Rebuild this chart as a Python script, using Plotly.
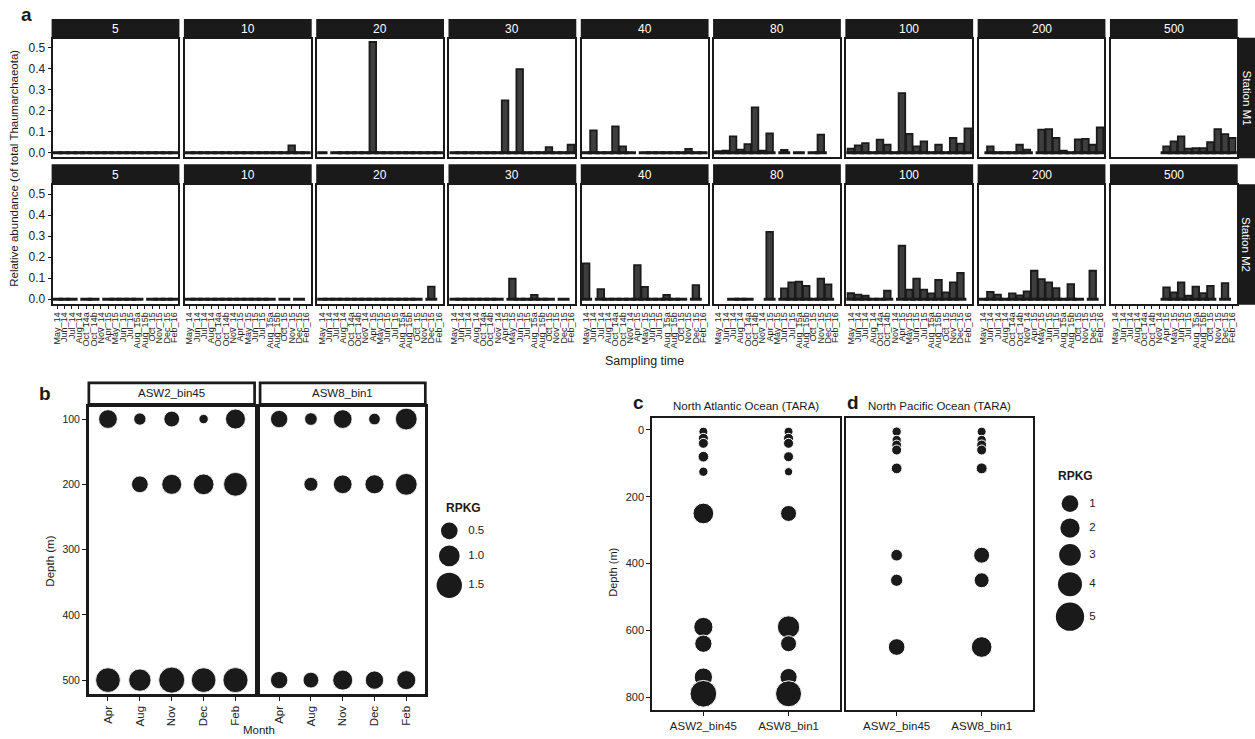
import numpy as np
import plotly.graph_objects as go

W, H = 1255, 739
def px(x): return x / W
def py(y): return 1 - y / H

FONT = "Liberation Sans, Arial, sans-serif"
DARK = "#1a1a1a"
BARFILL = "#3e3e3e"
N = None

# ---------------- panel a data ----------------
months = ["May_14", "Jun_14", "Jul_14", "Aug_14", "Oct_14a", "Oct_14b", "Nov_14",
          "Apr_15", "May_15", "Jun_15", "Jul_15", "Aug_15a", "Aug_15b", "Oct_15",
          "Nov_15", "Dec_15", "Feb_16"]
depth_labels = ["5", "10", "20", "30", "40", "80", "100", "200", "500"]
stations = ["Station M1", "Station M2"]

m1_5   = [0, 0, 0, 0, 0, 0, 0, 0, 0, 0, 0, 0, 0, 0, 0, 0, 0]
m1_10  = [0, 0, 0, 0, 0, 0, 0, 0, 0, 0, 0, 0, 0, 0, 0.035, 0, 0]
m1_20  = [0, N, 0, 0, 0, 0, 0, 0.527, 0, 0, 0, 0, 0, 0, 0, 0, 0]
m1_30  = [0, 0, 0, 0, 0, 0, 0, 0.249, 0, 0.398, 0, 0, 0, 0.027, 0, 0, 0.038]
m1_40  = [0, 0.106, 0, 0, 0.125, 0.03, 0, N, 0, 0, 0, 0, 0, 0, 0.018, 0, 0]
m1_80  = [0.008, 0.01, 0.078, 0.015, 0.041, 0.216, 0.01, 0.092, N, 0.013, N, 0, N, 0, 0.086, N, N]
m1_100 = [0.02, 0.035, 0.046, 0, 0.062, 0.038, 0, 0.284, 0.09, 0.03, 0.054, 0, 0.038, 0, 0.07, 0.043, 0.116]
m1_200 = [N, 0.03, 0, 0, 0, 0.038, 0.015, N, 0.11, 0.112, 0.07, 0.01, 0, 0.063, 0.066, 0.038, 0.12]
m1_500 = [N, N, N, N, N, N, N, 0.03, 0.054, 0.078, 0.02, 0.022, 0.022, 0.05, 0.112, 0.089, 0.07]

m2_5   = [0, 0, 0, N, 0, 0, N, 0, 0, 0, 0, 0, N, 0, 0, 0, 0]
m2_10  = [0, 0, 0, 0, 0, 0, 0, 0, 0, 0, 0, 0, N, 0, N, 0, N]
m2_20  = [0, 0, 0, 0, 0, 0, 0, 0, 0, 0, 0, 0, 0, 0, N, 0.06, N]
m2_30  = [0, 0, 0, 0, 0, 0, 0, N, 0.098, 0, 0, 0.02, 0, 0, N, 0, N]
m2_40  = [0.17, N, 0.048, 0, 0, 0, 0, 0.162, 0.058, 0, 0, 0.02, 0, 0, N, 0.067, N]
m2_80  = [N, N, 0, 0, 0, N, N, 0.32, N, 0.051, 0.08, 0.083, 0.063, 0, 0.098, 0.07, N]
m2_100 = [0.028, 0.021, 0.016, 0, 0, 0.04, N, 0.254, 0.045, 0.098, 0.045, 0.027, 0.092, 0.032, 0.08, 0.125, N]
m2_200 = [0, 0.035, 0.021, 0, 0.027, 0.018, 0.037, 0.135, 0.095, 0.08, 0.052, 0, 0.071, 0, N, 0.135, N]
m2_500 = [N, N, N, N, N, N, N, 0.056, 0.032, 0.08, 0.016, 0.06, 0.029, 0.063, N, 0.076, N]

station_rows = [
    [m1_5, m1_10, m1_20, m1_30, m1_40, m1_80, m1_100, m1_200, m1_500],
    [m2_5, m2_10, m2_20, m2_30, m2_40, m2_80, m2_100, m2_200, m2_500],
]
a_yticks = [0.0, 0.1, 0.2, 0.3, 0.4, 0.5]

# ---------------- panel b data ----------------
b_bins = ["ASW2_bin45", "ASW8_bin1"]
b_months = ["Apr", "Aug", "Nov", "Dec", "Feb"]
b_depths = [100, 200, 500]
b_asw2_100 = [0.75, 0.27, 0.45, 0.12, 0.91]
b_asw2_200 = [N, 0.50, 0.91, 1.00, 1.33]
b_asw2_500 = [1.43, 1.17, 1.60, 1.43, 1.47]
b_asw8_100 = [0.58, 0.29, 0.75, 0.24, 1.11]
b_asw8_200 = [N, 0.36, 0.75, 0.79, 1.11]
b_asw8_500 = [0.58, 0.45, 0.91, 0.70, 0.79]
b_legend = [0.5, 1.0, 1.5]
b_yticks = [100, 200, 300, 400, 500]

# ---------------- panels c, d data ----------------
cd_bins = ["ASW2_bin45", "ASW8_bin1"]
c_depths = [5, 25, 40, 80, 125, 250, 590, 640, 740, 790]
c_asw2 = [0.11, 0.23, 0.23, 0.31, 0.15, 2.58, 2.00, 1.23, 1.62, 4.63]
c_asw8 = [0.11, 0.23, 0.23, 0.23, 0.03, 0.92, 3.30, 0.92, 1.23, 4.47]
d_depths = [5, 30, 45, 60, 115, 375, 450, 650]
d_asw2 = [0.15, 0.15, 0.20, 0.23, 0.31, 0.43, 0.49, 1.00]
d_asw8 = [0.11, 0.15, 0.23, 0.23, 0.34, 0.92, 0.80, 2.58]
cd_legend = [1, 2, 3, 4, 5]
cd_yticks = [0, 200, 400, 600, 800]

# size scales (value -> marker diameter px)
def size_b(v):
    return np.interp(v, [0, 0.5, 1.0, 1.5, 2.0], [7, 16.7, 20.7, 25.3, 29])
def size_cd(v):
    return np.interp(v, [0, 1, 2, 3, 4, 5], [8, 16.7, 19.3, 21.7, 24, 28.3])

fig = go.Figure()
layout = {}
shapes = []
annotations = []

def names(k):
    s = "" if k == 1 else str(k)
    return "x" + s, "y" + s, "xaxis" + s, "yaxis" + s

def frame(lw):
    return dict(showline=True, mirror=True, linecolor=DARK, linewidth=lw,
                showgrid=False, zeroline=False)

def ann(x, y, text, size, **kw):
    d = dict(x=px(x), y=py(y), xref="paper", yref="paper", text=text,
             showarrow=False, xanchor="center", yanchor="middle",
             font=dict(family=FONT, size=size, color=kw.pop("color", DARK)))
    d.update(kw)
    annotations.append(d)

# ---------------- panel a ----------------
col_left0, col_step, col_w = 51.7, 132.5, 126
plot_rows = [(39, 158), (186, 305)]
strip_rows = [(19, 38.5), (165, 185.5)]

for r, row in enumerate(station_rows):
    for c, vals in enumerate(row):
        k = r * 9 + c + 1
        xa, ya, xk, yk = names(k)
        x0 = col_left0 + c * col_step
        x1 = x0 + col_w
        y0, y1 = plot_rows[r]
        fig.add_trace(go.Bar(x=months, y=vals, width=0.9, xaxis=xa, yaxis=ya,
                             marker=dict(color=BARFILL, line=dict(color=DARK, width=1.8)),
                             showlegend=False, hoverinfo="skip"))
        present = [m for m, v in zip(months, vals) if v is not None]
        fig.add_trace(go.Scatter(x=present, y=[0] * len(present), mode="markers",
                                 xaxis=xa, yaxis=ya, showlegend=False, hoverinfo="skip",
                                 marker=dict(symbol="line-ew", size=8.5, color=DARK,
                                             line=dict(color=DARK, width=3))))
        layout[xk] = dict(domain=[px(x0), px(x1)], anchor=ya, type="category",
                          categoryorder="array", categoryarray=months, range=[-0.6, 16.6],
                          tickmode="array", tickvals=months, ticktext=months,
                          ticks="outside" if r == 1 else "", ticklen=3, tickwidth=1,
                          tickcolor=DARK, showticklabels=(r == 1), tickangle=-90,
                          tickfont=dict(family=FONT, size=9, color="#222"), **frame(2))
        layout[yk] = dict(domain=[py(y1), py(y0)], anchor=xa, range=[-0.022, 0.542],
                          tickvals=a_yticks, ticktext=["%.1f" % t for t in a_yticks],
                          ticks="outside" if c == 0 else "", ticklen=3, tickwidth=1,
                          tickcolor=DARK, showticklabels=(c == 0),
                          tickfont=dict(family=FONT, size=12, color="#222"), **frame(2))
        sy0, sy1 = strip_rows[r]
        shapes.append(dict(type="rect", xref="paper", yref="paper",
                           x0=px(x0 - 1), x1=px(x1 + 1), y0=py(sy1), y1=py(sy0),
                           fillcolor=DARK, line=dict(width=0)))
        ann((x0 + x1) / 2, (sy0 + sy1) / 2, depth_labels[c], 12, color="white")
    y0, y1 = plot_rows[r]
    shapes.append(dict(type="rect", xref="paper", yref="paper",
                       x0=px(1239), x1=px(1256), y0=py(y1 + 1), y1=py(y0 - 1),
                       fillcolor=DARK, line=dict(width=0)))
    ann(1247.5, (y0 + y1) / 2, stations[r], 11.5, color="white", textangle=90)

ann(18, 15, "<b>a</b>", 19, xanchor="left")
ann(13.5, 169, "Relative abundance (of total Thaumarchaeota)", 11.5, textangle=-90)
ann(645, 362, "Sampling time", 12.5)

# ---------------- panel b ----------------
b_panels = [(88, 254), (259.5, 425)]
b_data = [[b_asw2_100, b_asw2_200, b_asw2_500], [b_asw8_100, b_asw8_200, b_asw8_500]]
for i, (bx0, bx1) in enumerate(b_panels):
    k = 19 + i
    xa, ya, xk, yk = names(k)
    for depth, vals in zip(b_depths, b_data[i]):
        xs = [m for m, v in zip(b_months, vals) if v is not None]
        vs = [v for v in vals if v is not None]
        fig.add_trace(go.Scatter(x=xs, y=[depth] * len(xs), mode="markers",
                                 xaxis=xa, yaxis=ya, showlegend=False, hoverinfo="skip",
                                 marker=dict(size=size_b(np.array(vs)), color=DARK, opacity=1,
                                             line=dict(color="white", width=0.8))))
    layout[xk] = dict(domain=[px(bx0), px(bx1)], anchor=ya, type="category",
                      categoryorder="array", categoryarray=b_months, range=[-0.6, 4.6],
                      ticks="outside", ticklen=4, tickwidth=1, tickcolor=DARK,
                      tickangle=-90, tickfont=dict(family=FONT, size=11.5, color="#222"),
                      **frame(2.7))
    layout[yk] = dict(domain=[py(697.3), py(408.3)], anchor=xa, range=[522, 81],
                      tickvals=b_yticks, ticks="outside" if i == 0 else "", ticklen=4,
                      tickwidth=1, tickcolor=DARK, showticklabels=(i == 0),
                      tickfont=dict(family=FONT, size=10.5, color="#222"), **frame(2.7))
    shapes.append(dict(type="rect", xref="paper", yref="paper",
                       x0=px(bx0), x1=px(bx1), y0=py(406), y1=py(384.5),
                       fillcolor="white", line=dict(color=DARK, width=2.7)))
    ann((bx0 + bx1) / 2, 395, b_bins[i], 11.5)

ann(36, 395, "<b>b</b>", 19, xanchor="left")
ann(49, 563, "Depth (m)", 11.5, textangle=-90)
ann(258, 733, "Month", 11.5)

# ---------------- panels c, d ----------------
cd_panels = [(652.3, 840, c_depths, [c_asw2, c_asw8], "North Atlantic Ocean (TARA)", "c", 631),
             (846, 1033.3, d_depths, [d_asw2, d_asw8], "North Pacific Ocean (TARA)", "d", 845)]
for i, (cx0, cx1, deps, series, title, letter, lx) in enumerate(cd_panels):
    k = 21 + i
    xa, ya, xk, yk = names(k)
    for bname, vals in zip(cd_bins, series):
        fig.add_trace(go.Scatter(x=[bname] * len(deps), y=deps, mode="markers",
                                 xaxis=xa, yaxis=ya, showlegend=False, hoverinfo="skip",
                                 marker=dict(size=size_cd(np.array(vals)), color=DARK, opacity=1,
                                             line=dict(color="white", width=1))))
    layout[xk] = dict(domain=[px(cx0), px(cx1)], anchor=ya, type="category",
                      categoryorder="array", categoryarray=cd_bins, range=[-0.6, 1.6],
                      ticks="outside", ticklen=4, tickwidth=1, tickcolor=DARK,
                      tickfont=dict(family=FONT, size=11.5, color="#222"), **frame(2))
    layout[yk] = dict(domain=[py(712.7), py(420)], anchor=xa, range=[838, -35],
                      tickvals=cd_yticks, ticks="outside" if i == 0 else "", ticklen=4,
                      tickwidth=1, tickcolor=DARK, showticklabels=(i == 0),
                      tickfont=dict(family=FONT, size=11, color="#222"), **frame(2))
    ann((cx0 + cx1) / 2, 408, title, 11.5)
    ann(lx, 404, "<b>%s</b>" % letter, 19, xanchor="left")
ann(613, 575, "Depth (m)", 11, textangle=-90)

# ---------------- size legends ----------------
def legend_positions(sizes, start, gap):
    pos = [start]
    for a, b in zip(sizes[:-1], sizes[1:]):
        pos.append(pos[-1] + (a + b) / 2 + gap)
    return pos

legends = [
    (23, (432, 510), (495, 615), b_legend, size_b, 449, 533, 468, ["%.1f" % v for v in b_legend], 463, 510),
    (24, (1045, 1120), (480, 645), cd_legend, size_cd, 1070.7, 505.7, 1090, [str(v) for v in cd_legend], 1076, 478),
]
for (k, (lx0, lx1), (ly0, ly1), vals, fn, cx, cy0, tx, labels, ttx, tty) in legends:
    xa, ya, xk, yk = names(k)
    sizes = fn(np.array(vals, dtype=float))
    ys = legend_positions(list(sizes), cy0, 6.5)
    fig.add_trace(go.Scatter(x=[cx] * len(vals), y=ys, mode="markers", xaxis=xa, yaxis=ya,
                             showlegend=False, hoverinfo="skip", cliponaxis=False,
                             marker=dict(size=sizes, color=DARK, opacity=1, line=dict(width=0))))
    fig.add_trace(go.Scatter(x=[tx] * len(vals), y=ys, mode="text", text=labels,
                             textposition="middle right", xaxis=xa, yaxis=ya,
                             showlegend=False, hoverinfo="skip", cliponaxis=False,
                             textfont=dict(family=FONT, size=11.5, color="#222")))
    layout[xk] = dict(domain=[px(lx0), px(lx1)], anchor=ya, range=[lx0, lx1], visible=False)
    layout[yk] = dict(domain=[py(ly1), py(ly0)], anchor=xa, range=[ly1, ly0], visible=False)
    ann(ttx, tty, "<b>RPKG</b>", 12)

fig.update_layout(width=W, height=H, autosize=False,
                  margin=dict(l=0, r=0, t=0, b=0),
                  paper_bgcolor="white", plot_bgcolor="rgba(0,0,0,0)",
                  font=dict(family=FONT, color=DARK),
                  shapes=shapes, annotations=annotations, **layout)
fig.write_html("out.html", config={"displayModeBar": False},
               post_script="document.body.style.margin='0';document.body.style.overflow='hidden';")
